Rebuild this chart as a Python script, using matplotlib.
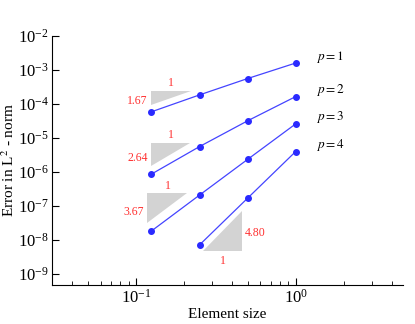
import numpy as np
import matplotlib.pyplot as plt
from matplotlib.patches import Polygon

plt.rcParams['font.family'] = ['Liberation Serif', 'DejaVu Serif']
plt.rcParams['mathtext.fontset'] = 'stix'

# element sizes and L2 errors for each polynomial order
h = [0.125, 0.25, 0.5, 1.0]
err_p1 = [5.9e-5, 1.85e-4, 5.6e-4, 1.6e-3]
err_p2 = [8.7e-7, 5.6e-6, 3.2e-5, 1.65e-4]
err_p3 = [1.85e-8, 2.1e-7, 2.35e-6, 2.6e-5]
h_p4 = [0.25, 0.5, 1.0]
err_p4 = [7.2e-9, 1.7e-7, 4.0e-6]
p_labels = ['$p = 1$', '$p = 2$', '$p = 3$', '$p = 4$']
p_label_y = [2.48e-3, 2.64e-4, 4.2e-5, 6.1e-6]
rates = ['1.67', '2.64', '3.67', '4.80']

fig = plt.figure(figsize=(4.15, 3.24), dpi=100)
ax = fig.add_axes([0.1253, 0.1204, 0.8457, 0.7686])

for x, y in [(h, err_p1), (h, err_p2), (h, err_p3), (h_p4, err_p4)]:
    ax.plot(x, y, '-', color='#4444ff', lw=0.9)
    ax.plot(x, y, 'o', color='#2a2aff', ms=4, mec='#2a2aff')

for lab, yl in zip(p_labels, p_label_y):
    ax.text(1.35, yl, lab, fontsize=9.5, va='center', ha='left')

grey = '#d3d3d3'
red = '#ff3030'
# slope triangles (upper-left style for first three)
tris = [(0.125, 0.220, 9.4e-5, 2.47e-4),
        (0.125, 0.218, 1.51e-6, 7.3e-6),
        (0.118, 0.210, 3.12e-8, 2.35e-7)]
for (x0, x1, yb, yt), r in zip(tris, rates[:3]):
    ax.add_patch(Polygon([(x0, yb), (x0, yt), (x1, yt)], closed=True,
                         fc=grey, ec='none'))
    ax.text(np.sqrt(x0 * x1), yt * 1.12, '1', color=red, fontsize=8.5,
            ha='center', va='bottom')
    ax.text(x0 * 0.95, np.sqrt(yb * yt) * 0.8, r, color=red, fontsize=8.5,
            ha='right', va='center')

x0, x1, yb, yt = 0.264, 0.464, 4.93e-9, 7.0e-8
ax.add_patch(Polygon([(x0, yb), (x1, yb), (x1, yt)], closed=True,
                     fc=grey, ec='none'))
ax.text(x1 * 1.04, np.sqrt(yb * yt) * 0.85, rates[3], color=red, fontsize=8.5,
        ha='left', va='center')
ax.text(np.sqrt(x0 * x1), yb * 0.75, '1', color=red, fontsize=8.5,
        ha='center', va='top')

ax.set_xscale('log')
ax.set_yscale('log')
ax.set_xlim(0.0298, 4.7)
ax.set_ylim(10 ** -9.32, 1e-2)
ax.set_yticks([10.0 ** k for k in range(-9, -1)])
ax.set_xticks([0.1, 1.0])

for s in ['top', 'right']:
    ax.spines[s].set_visible(False)
ax.tick_params(which='both', direction='in', labelsize=12, pad=2.5)
ax.tick_params(which='major', length=5)
ax.tick_params(which='minor', length=3)

ax.set_xlabel('Element size', fontsize=11, labelpad=1)
ax.set_ylabel('Error in L$^2$ - norm', fontsize=11)
ax.yaxis.set_label_coords(-0.1, 0.5)

fig.savefig('out.png', dpi=100)
